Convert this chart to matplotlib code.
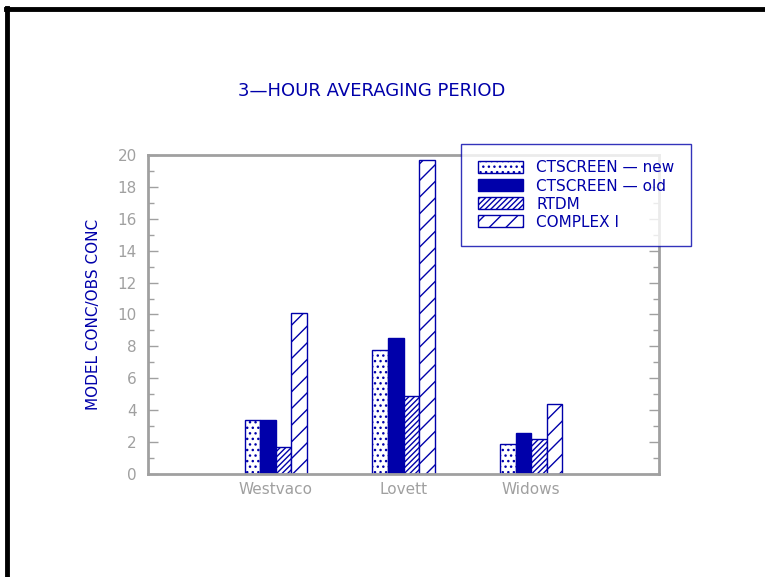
import matplotlib
matplotlib.use('Agg')
import matplotlib.pyplot as plt
import numpy as np
from matplotlib.patches import Patch
from matplotlib.lines import Line2D

# 数据
sites = ['Westvaco', 'Lovett', 'Widows']
models = ['CTSCREEN \u2014 new', 'CTSCREEN \u2014 old', 'RTDM', 'COMPLEX I']
ctscreen_new = [3.4, 7.8, 1.9]
ctscreen_old = [3.4, 8.5, 2.6]
rtdm = [1.7, 4.9, 2.2]
complex1 = [10.1, 19.7, 4.4]

blue = '#0000AA'
gray = '#A0A0A0'
plt.rcParams['hatch.linewidth'] = 1.0
plt.rcParams['hatch.color'] = blue

fig = plt.figure(figsize=(7.65, 5.77), dpi=100)
ax = fig.add_axes([0.1935, 0.1785, 0.668, 0.5529])

x = np.arange(1, len(sites) + 1)
w = 0.122
series = [ctscreen_new, ctscreen_old, rtdm, complex1]
styles = [dict(facecolor='white', hatch='...'),
          dict(facecolor=blue, hatch=None),
          dict(facecolor='white', hatch='//////'),
          dict(facecolor='white', hatch='//')]
handles = []
for i, (vals, st) in enumerate(zip(series, styles)):
    ax.bar(x + (i - 1.5) * w, vals, width=w, edgecolor=blue, linewidth=1.0, **st)
    handles.append(Patch(edgecolor=blue, linewidth=1.0, label=models[i], **st))

ax.set_xlim(0, 4)
ax.set_ylim(0, 20)
ax.set_xticks(x)
ax.set_xticklabels(sites, color=gray, fontsize=11)
ax.set_yticks(range(0, 21, 2))
ax.set_yticks(range(1, 20, 2), minor=True)
ax.tick_params(axis='y', which='both', direction='in', colors=gray, labelsize=11,
               right=True, pad=8)
ax.tick_params(axis='y', which='major', length=7, width=1)
ax.tick_params(axis='y', which='minor', length=4, width=1)
ax.tick_params(axis='x', length=0, pad=6)
for s in ax.spines.values():
    s.set_color(gray)
    s.set_linewidth(2)

ax.set_ylabel('MODEL CONC/OBS CONC', color=blue, fontsize=11, labelpad=12)
fig.text(0.486, 0.842, '3\u2014HOUR AVERAGING PERIOD', color=blue, fontsize=13,
         ha='center', va='center')

leg = fig.legend(handles=handles, loc='upper left', bbox_to_anchor=(0.603, 0.751),
                 borderaxespad=0, fontsize=11, frameon=True, fancybox=False,
                 handlelength=2.95, handleheight=0.85, labelspacing=0.2,
                 borderpad=1.1, handletextpad=0.85)
leg.get_frame().set_edgecolor(blue)
leg.get_frame().set_linewidth(1.0)
for t in leg.get_texts():
    t.set_color(blue)

# 外框
fig.add_artist(Line2D([0.008, 1.0], [0.984, 0.984], color='black', linewidth=3.5,
                      transform=fig.transFigure))
fig.add_artist(Line2D([0.009, 0.009], [0.0, 0.986], color='black', linewidth=3.5,
                      transform=fig.transFigure))

fig.savefig('out.png', dpi=100)
